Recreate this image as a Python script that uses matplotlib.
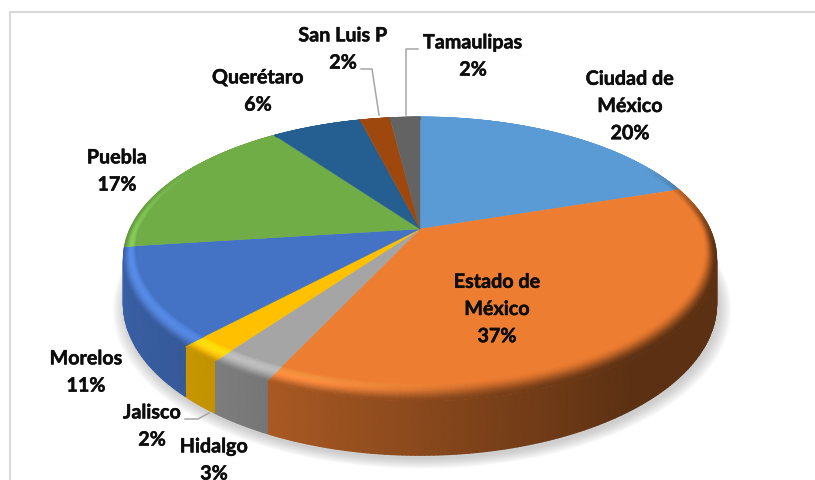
import matplotlib
import matplotlib.patheffects as pe
import matplotlib.pyplot as plt
import numpy as np

matplotlib.use("Agg")

names = ["Ciudad de\nMéxico", "Estado de\nMéxico", "Hidalgo", "Jalisco", "Morelos",
         "Puebla", "Querétaro", "San Luis P", "Tamaulipas"]
values = [20, 37, 3, 2, 11, 17, 6, 2, 2]
colors = ["#5B9BD5", "#ED7D31", "#A5A5A5", "#FFC000", "#4472C4",
          "#70AD47", "#255E91", "#9E480E", "#636363"]

# label centres in pixels
label_pos = [(630, 106), (497, 309), (214, 460), (152, 426), (86, 372),
             (117, 171), (258, 91), (343, 49), (473, 56)]

# projection of the tilted disc
CX, CY = 420, 229
A, C, K = 290, 135.6, 0.211
DEPTH = 43


def project(r, theta, drop=0.0):
    u = r * np.sin(theta)
    v = r * np.cos(theta)
    w = 1 + K * v
    return CX + A * u / w, CY - C * v / w + drop / w


def side_shade(theta):
    return np.interp(np.sin(theta), [-1, -0.5, 0.1, 0.6, 1], [0.85, 0.74, 0.55, 0.39, 0.39])


def rim_colors(base, t, theta):
    u = np.sin(theta)
    v = np.cos(theta)
    weight = np.interp(v, [-1, -0.1, 0.5], [1, 1, 0])
    blend = (t ** 2 * (3 - 2 * t) * weight)[..., None]
    shade = side_shade(theta)[..., None]
    out = base * (1 - blend) + base * shade * blend
    light = (np.interp(u, [-1, -0.3, 0.2], [1, 1, 0]) * np.sin(np.pi * t) * weight)[..., None]
    bright = np.clip(out * 1.2 + 0.05, 0, 1)
    return out * (1 - light) + bright * light


fig = plt.figure(figsize=(8.15, 4.8), dpi=100)
ax = fig.add_axes([0, 0, 1, 1])
ax.set_xlim(0, 815)
ax.set_ylim(480, 0)
ax.axis("off")

# chart frame, only left and top are inside the crop
ax.plot([10, 10, 815], [480, 12, 12], color="#D9D9D9", linewidth=1.5)

# soft shadow
circle = np.linspace(0, 2 * np.pi, 361)
for s in np.linspace(1.04, 1.0, 10):
    x, y = project(s, circle, DEPTH + 3)
    ax.fill(x + 2, y, color="#808080", alpha=0.045, linewidth=0)

edges = np.radians(np.cumsum([0] + values) / sum(values) * 360)

# side wall, only the part that faces the viewer
front_start = np.arccos(-K)
front_end = 2 * np.pi - front_start
for i, color in enumerate(colors):
    lo = max(edges[i], front_start)
    hi = min(edges[i + 1], front_end)
    if lo >= hi:
        continue
    base = np.array(matplotlib.colors.to_rgb(color))
    theta = np.linspace(lo, hi, max(3, values[i] * 4))
    x0, y0 = project(1.0, theta)
    x1, y1 = project(1.0, theta, DEPTH)
    cols = base * side_shade(theta)[:, None]
    ax.pcolormesh(np.vstack([x0, x1]), np.vstack([y0, y1]), np.stack([cols, cols]),
                  shading="gouraud")

# top face
for i, color in enumerate(colors):
    theta = np.linspace(edges[i], edges[i + 1], max(3, values[i] * 4))
    x, y = project(1.0, theta)
    ax.fill(np.r_[CX, x], np.r_[CY, y], color=color, linewidth=0.3)

# bevel round the edge of the top face, wider at the front
steps = np.linspace(0, 1, 13)
for i, color in enumerate(colors):
    base = np.array(matplotlib.colors.to_rgb(color))
    theta = np.linspace(edges[i], edges[i + 1], max(3, values[i] * 4))
    tt, th = np.meshgrid(steps, theta, indexing="ij")
    width = 0.03 + 0.055 * np.clip(-np.cos(th), 0, 1)
    x, y = project(1 - (1 - tt) * width, th)
    ax.pcolormesh(x, y, rim_colors(base, tt, th), shading="gouraud")

# leader lines
leaders = [([361, 372, 379], [69, 69, 115]),
           ([418, 406, 406], [49, 49, 115]),
           ([185, 198, 209], [419, 419, 413])]
for lx, ly in leaders:
    ax.plot(lx, ly, color="#A6A6A6", linewidth=1.1)

for name, value, (x, y) in zip(names, values, label_pos):
    ax.text(x, y, f"{name}\n{value}%", ha="center", va="center", family="Lato",
            fontweight="bold", fontsize=14.2, linespacing=1.45, color="#0D0D0D",
            path_effects=[pe.withStroke(linewidth=0.35, foreground="#0D0D0D")])

fig.savefig("out.png", dpi=100)
plt.close(fig)
